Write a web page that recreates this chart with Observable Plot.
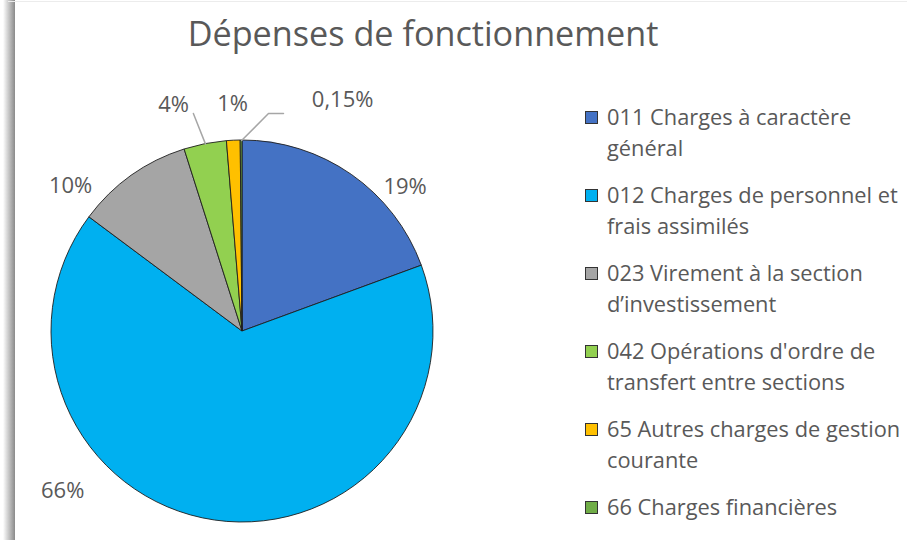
<!DOCTYPE html>
<html>
<head>
<meta charset="utf-8">
<script src="https://cdn.jsdelivr.net/npm/d3@7"></script>
<script src="https://cdn.jsdelivr.net/npm/@observablehq/plot@0.6"></script>
<style>
  body { margin: 0; background: #fff; }
  #wrap { position: relative; width: 907px; height: 540px; overflow: hidden; background: #fff;
          font-family: "Open Sans", sans-serif; color: #595959; }
  #shadow { position: absolute; left: 0; top: 0; width: 15px; height: 540px;
            background: linear-gradient(to right, #fff 0px, #fff 3px, #8a8a8a 15px); }
  #topline { position: absolute; left: 8px; top: 1px; width: 899px; height: 1px; background: #ececec; }
  #title { position: absolute; left: 0; top: 13px; width: 846px; text-align: center;
           font-size: 34.2px; line-height: 40px; white-space: nowrap; }
  #chart { position: absolute; left: 0; top: 0; }
  #legend { position: absolute; left: 585px; top: 101px; }
  .item { display: flex; align-items: flex-start; margin-bottom: 16px; }
  .sw { width: 11px; height: 11px; border: 1px solid #333; margin-top: 10px; margin-right: 9px; flex: none; }
  .lab { width: 300px; font-size: 21.8px; line-height: 31px; }
</style>
</head>
<body>
<div id="wrap">
  <div id="shadow"></div>
  <div id="topline"></div>
  <div id="chart"></div>
  <div id="title"></div>
  <div id="legend"></div>
</div>
<script>
// ---- data ----
const title = "Dépenses de fonctionnement";
const codes = ["011", "012", "023", "042", "65", "66"];
const categories = [
  "011 Charges à caractère général",
  "012 Charges de personnel et frais assimilés",
  "023 Virement à la section d’investissement",
  "042 Opérations d'ordre de transfert entre sections",
  "65 Autres charges de gestion courante",
  "66 Charges financières"
];
const shares = [19.4, 65.8, 9.9, 3.6, 1.15, 0.15];
const labels = ["19%", "66%", "10%", "4%", "1%", "0,15%"];
const colors = ["#4472C4", "#00B0F0", "#A5A5A5", "#92D050", "#FFC000", "#70AD47"];

// ---- layout (label placement: angle in degrees clockwise from top, radius as fraction of pie radius) ----
const labelAngle = [48.3, 228.5, 310.3, 343.1, 357.5, 23.4];
const labelRadius = [1.14, 1.257, 1.18, 1.24, 1.19, 1.32];
// leader lines: start/elbow points (angle, radius); they end at the slice's mid-angle on the rim
const leaders = [
  {code: "042", pts: [[347.3, 1.17]]},
  {code: "66", pts: [[10.65, 1.161], [6.8, 1.149]]}
];

const data = codes.map((c, i) => ({code: c, category: categories[i], value: shares[i], label: labels[i], color: colors[i]}));
const arcs = d3.pie().sort(null).value(d => d.value)(data);
const midAngle = new Map(arcs.map(a => [a.data.code, (a.startAngle + a.endAngle) / 2]));

const rad = deg => deg * Math.PI / 180;
const polar = (ang, r) => ({x: r * Math.sin(ang), y: r * Math.cos(ang)});

const labelData = data.map((d, i) => ({...d, ...polar(rad(labelAngle[i]), labelRadius[i])}));
const leaderData = leaders.flatMap(l => {
  const pts = l.pts.map(([a, r]) => polar(rad(a), r));
  pts.push(polar(midAngle.get(l.code), 1));
  return pts.map(p => ({...p, code: l.code}));
});

function pieSlices(index, scales, values, dimensions) {
  const {width, height, marginLeft, marginRight, marginTop, marginBottom} = dimensions;
  const sx = scales && scales.x ? scales.x : (v => marginLeft + (v + 1) / 2 * (width - marginLeft - marginRight));
  const sy = scales && scales.y ? scales.y : (v => height - marginBottom - (v + 1) / 2 * (height - marginTop - marginBottom));
  const cx = sx(0), cy = sy(0), r = sx(1) - sx(0);
  const arc = d3.arc().innerRadius(0).outerRadius(r);
  const g = d3.create("svg:g").attr("transform", `translate(${cx},${cy})`);
  g.selectAll("path").data(arcs).join("path")
    .attr("d", arc)
    .attr("fill", d => d.data.color)
    .attr("stroke", "#1e1e1e")
    .attr("stroke-width", 0.9)
    .attr("stroke-linejoin", "round");
  return g.node();
}

const chart = Plot.plot({
  width: 560,
  height: 540,
  marginLeft: 51,
  marginRight: 127,
  marginTop: 140,
  marginBottom: 18,
  x: {domain: [-1, 1], axis: null},
  y: {domain: [-1, 1], axis: null},
  style: {background: "transparent", overflow: "visible", fontFamily: "'Open Sans', sans-serif"},
  marks: [
    pieSlices,
    Plot.line(leaderData, {x: "x", y: "y", z: "code", stroke: "#a6a6a6", strokeWidth: 1.5}),
    Plot.text(labelData, {x: "x", y: "y", text: "label", fill: "#595959", fontSize: 22})
  ]
});
document.getElementById("chart").appendChild(chart);

document.getElementById("title").textContent = title;

const legend = d3.select("#legend");
const items = legend.selectAll("div.item").data(data).join("div").attr("class", "item");
items.append("div").attr("class", "sw").style("background", d => d.color);
items.append("div").attr("class", "lab").text(d => d.category);
</script>
</body>
</html>
